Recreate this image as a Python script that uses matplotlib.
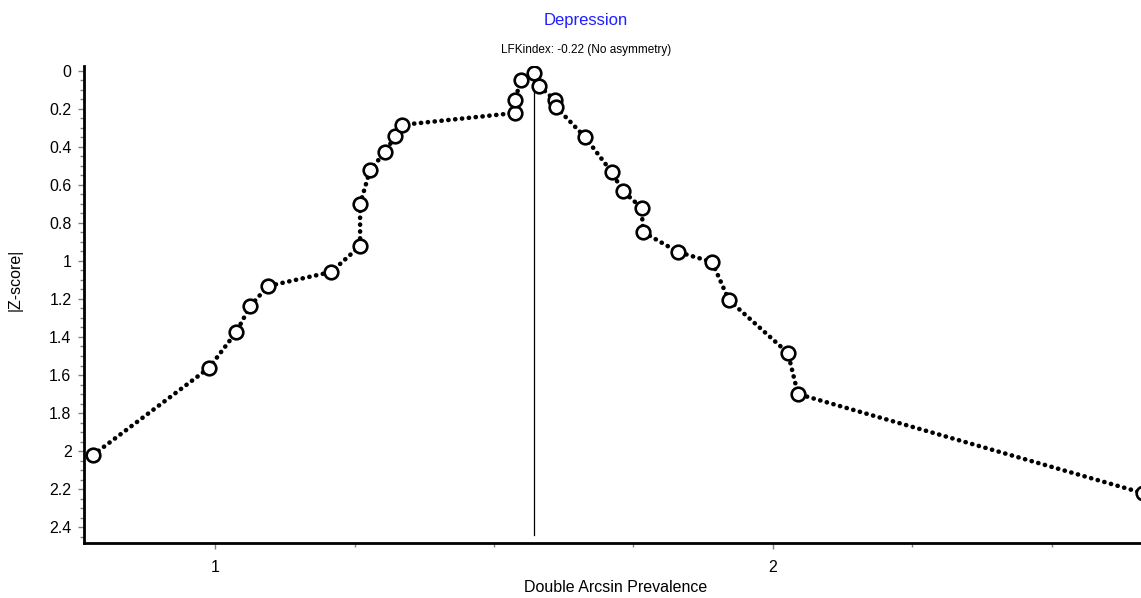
import matplotlib
matplotlib.use("Agg")
import matplotlib.pyplot as plt
from matplotlib.ticker import MultipleLocator, FixedLocator

plt.rcParams['font.family'] = ['Liberation Sans', 'DejaVu Sans']

# Data
prevalence = [0.781, 0.989, 1.038, 1.063, 1.095, 1.208, 1.260, 1.260, 1.278, 1.305,
              1.323, 1.335, 1.538, 1.538, 1.548, 1.572, 1.581, 1.609, 1.611, 1.663,
              1.711, 1.731, 1.765, 1.767, 1.830, 1.891, 1.921, 2.027, 2.045, 2.663]
zscore = [2.021, 1.563, 1.374, 1.237, 1.132, 1.058, 0.921, 0.700, 0.521, 0.426,
          0.342, 0.284, 0.221, 0.153, 0.047, 0.011, 0.079, 0.153, 0.189, 0.347,
          0.532, 0.632, 0.721, 0.847, 0.953, 1.005, 1.205, 1.484, 1.700, 2.221]
ref_x = 1.572
ref_y = [0.011, 2.44]
title = "Depression"
subtitle = "LFKindex: -0.22 (No asymmetry)"
x_ticks = [1, 2]
y_ticks = [0, 0.2, 0.4, 0.6, 0.8, 1, 1.2, 1.4, 1.6, 1.8, 2, 2.2, 2.4]
y_tick_labels = ["0", "0.2", "0.4", "0.6", "0.8", "1", "1.2", "1.4", "1.6", "1.8", "2", "2.2", "2.4"]

W, H = 1141, 598
fig = plt.figure(figsize=(W / 100, H / 100), dpi=100)
left, right, top, bottom = 84, 1141, 66, 543
ax = fig.add_axes([left / W, 1 - bottom / H, (right - left) / W, (bottom - top) / H])

ax.plot(prevalence, zscore, color='black', linewidth=3.3,
        linestyle=(0, (0.05, 1.45)), dash_capstyle='round', zorder=2)
ax.plot(prevalence, zscore, linestyle='none', marker='o', markersize=9.8,
        markerfacecolor='white', markeredgecolor='black', markeredgewidth=1.9, zorder=3)
ax.plot([ref_x, ref_x], ref_y, color='black', linewidth=0.9, zorder=1)

ax.set_xlim(0.765, 2.66)
ax.set_ylim(2.484, -0.026)

ax.spines['top'].set_visible(False)
ax.spines['right'].set_visible(False)
ax.spines['left'].set_linewidth(2)
ax.spines['bottom'].set_linewidth(2)

ax.xaxis.set_major_locator(FixedLocator(x_ticks))
ax.xaxis.set_minor_locator(MultipleLocator(0.25))
ax.set_xticklabels([str(t) for t in x_ticks])
ax.yaxis.set_major_locator(FixedLocator(y_ticks))
ax.set_yticklabels(y_tick_labels)
ax.yaxis.set_minor_locator(MultipleLocator(0.05))

ax.tick_params(axis='both', which='major', direction='out', length=4, width=1,
               color='#808080', labelsize=11.5, pad=5)
ax.tick_params(axis='both', which='minor', direction='out', length=3, width=1,
               color='#808080')
ax.tick_params(axis='x', which='major', pad=8)

fig.text(586 / W, 1 - 20 / H, title, color='#1f1fff', fontsize=12, ha='center', va='center')
fig.text(586 / W, 1 - 50 / H, subtitle, color='black', fontsize=8.5, ha='center', va='center')
fig.text(616 / W, 1 - 588 / H, "Double Arcsin Prevalence", fontsize=11.5, ha='center', va='center')
fig.text(15 / W, 1 - 280 / H, "|Z-score|", fontsize=11.5, ha='center', va='center', rotation=90)

fig.savefig("out.png", dpi=100)
